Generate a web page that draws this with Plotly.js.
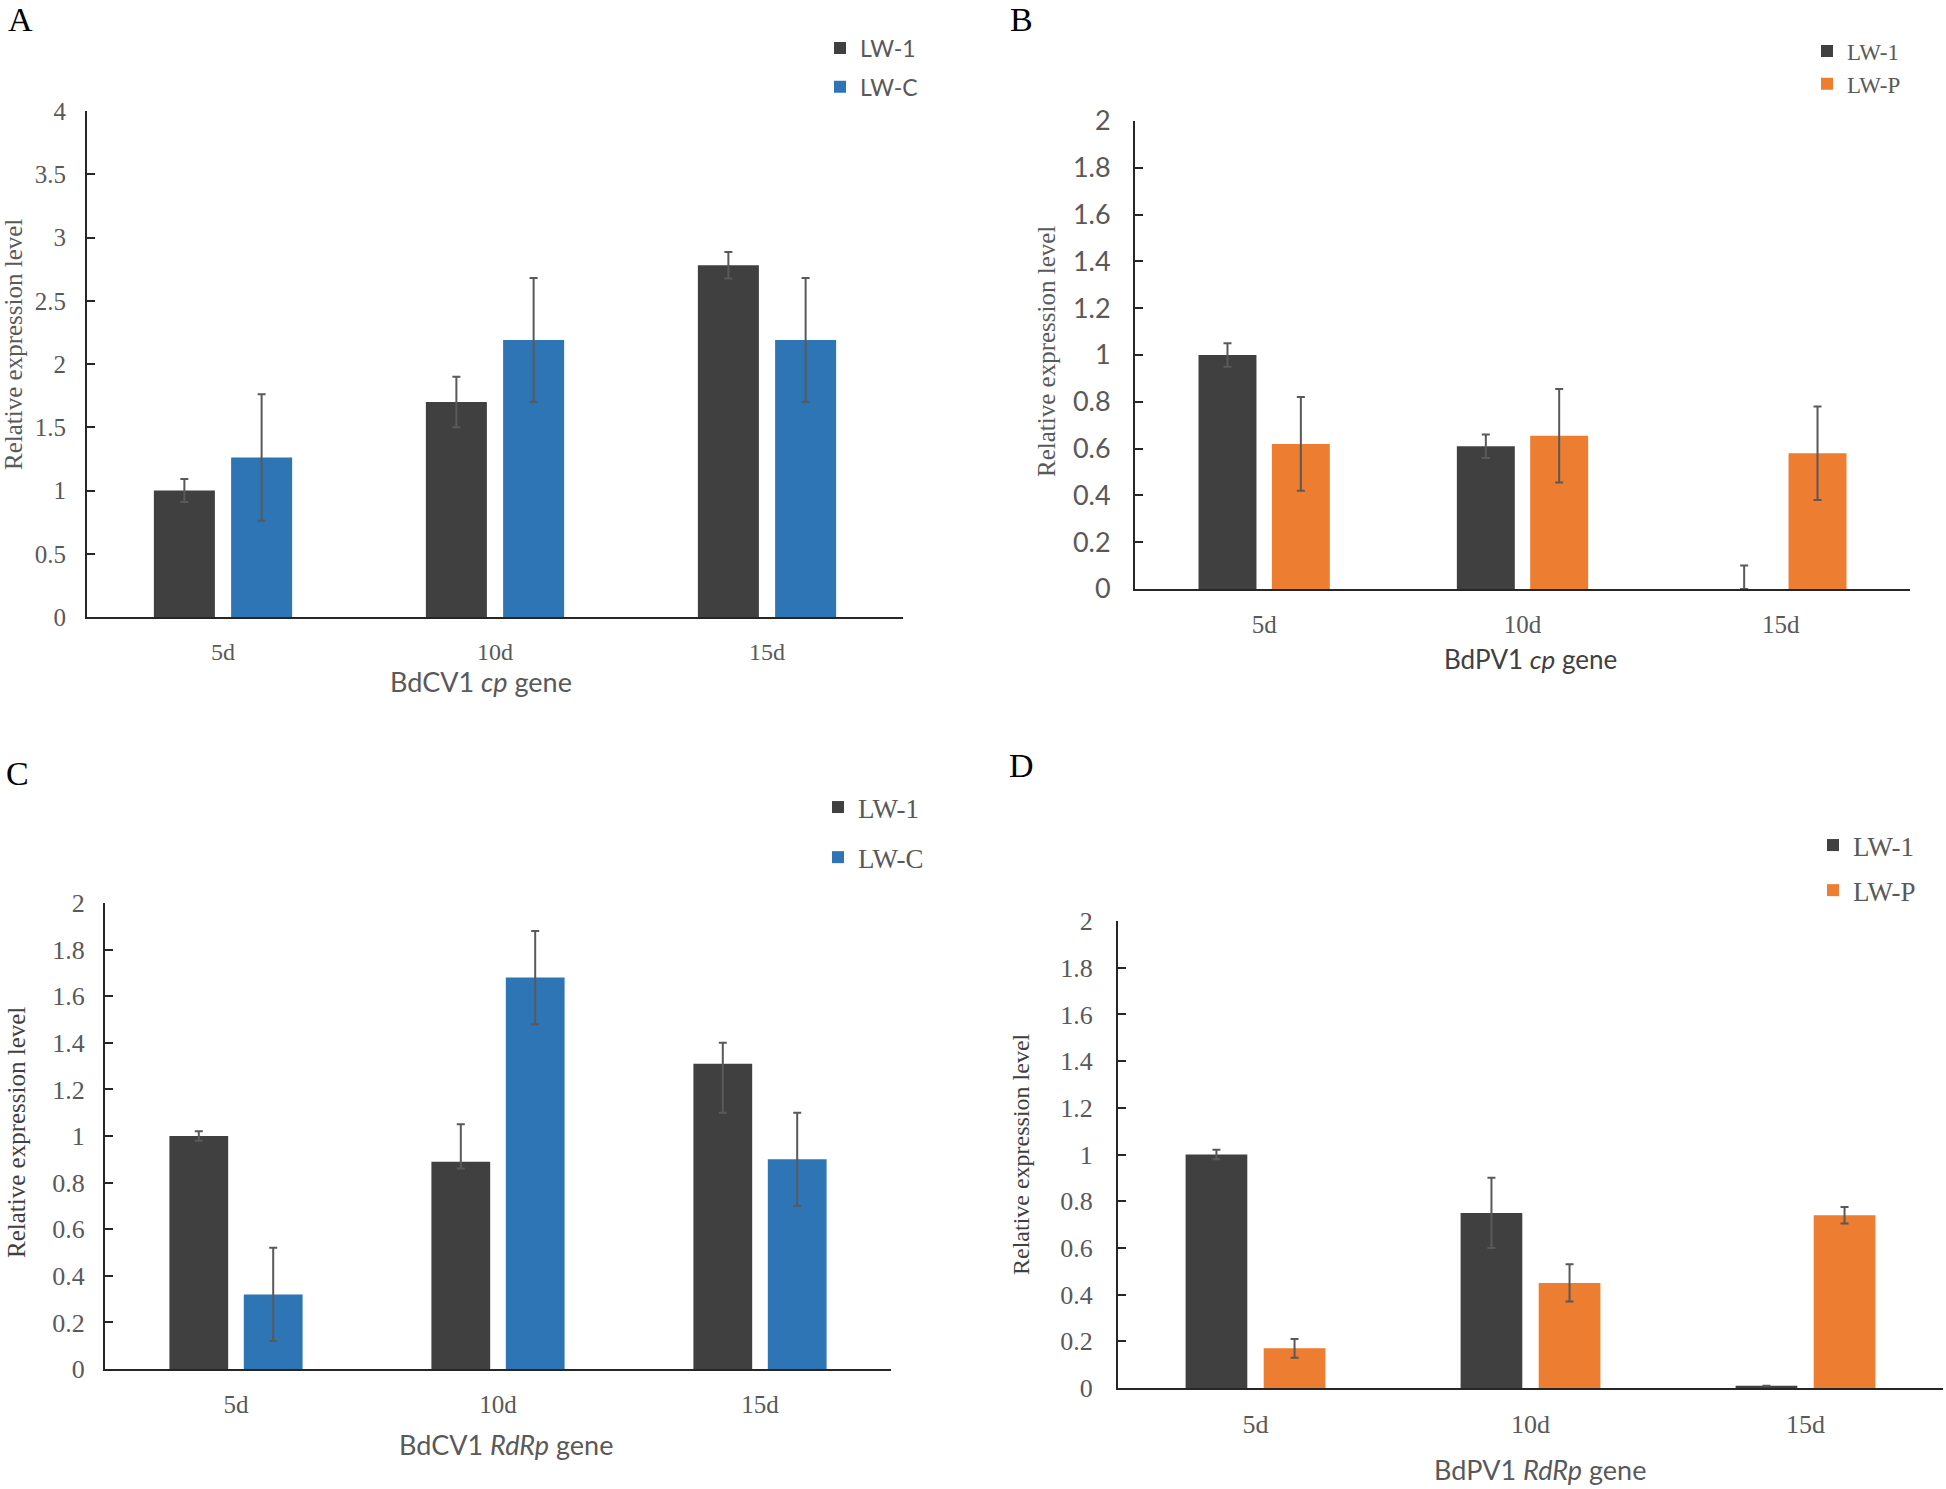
<!DOCTYPE html>
<html>
<head>
<meta charset="utf-8">
<script src="https://cdn.plot.ly/plotly-3.0.1.min.js"></script>
<style>
  html, body { margin: 0; padding: 0; background: #fff; }
  #chart { width: 1946px; height: 1489px; }
</style>
</head>
<body>
<div id="chart"></div>
<script>
const days = ["5d", "10d", "15d"];

// A: BdCV1 cp gene
const aLw1 = [1.0, 1.7, 2.78];
const aLw1Err = [0.09, 0.2, 0.105];
const aLwC = [1.26, 2.19, 2.19];
const aLwCErr = [0.5, 0.49, 0.49];

// B: BdPV1 cp gene
const bLw1 = [1.0, 0.61, 0];
const bLw1ErrPlus = [0.05, 0.05, 0.1];
const bLw1ErrMinus = [0.05, 0.05, 0];
const bLwP = [0.62, 0.655, 0.58];
const bLwPErr = [0.2, 0.2, 0.2];

// C: BdCV1 RdRp gene
const cLw1 = [1.0, 0.89, 1.31];
const cLw1ErrPlus = [0.02, 0.16, 0.09];
const cLw1ErrMinus = [0.02, 0.03, 0.21];
const cLwC = [0.32, 1.68, 0.9];
const cLwCErr = [0.2, 0.2, 0.2];

// D: BdPV1 RdRp gene
const dLw1 = [1.0, 0.75, 0.01];
const dLw1Err = [0.02, 0.15, 0];
const dLwP = [0.17, 0.45, 0.74];
const dLwPErr = [0.04, 0.08, 0.035];

const W = 1946;
const H = 1489;
const DARK = "#404040";
const BLUE = "#2e75b6";
const ORANGE = "#ed7d31";
const TEXT = "#595959";
const AXIS = "#262626";
const SERIF = "Liberation Serif, Times New Roman, serif";
const SANS = "Lato, Open Sans, sans-serif";

// pixel -> paper helpers
const px = x => x / W;
const py = y => 1 - y / H;

function barTrace(name, y, plus, minus, color, xa, ya, legendId) {
  return {
    type: "bar",
    name,
    x: days,
    y,
    xaxis: xa,
    yaxis: ya,
    legend: legendId,
    legendgroup: legendId + name,
    marker: { color },
    error_y: {
      type: "data",
      symmetric: false,
      array: plus,
      arrayminus: minus,
      color: TEXT,
      thickness: 2,
      width: 4
    },
    hoverinfo: "skip"
  };
}

function valueAxis(y0, y1, maxVal, step, font, standoff, anchor) {
  return {
    domain: [py(y0), py(y1)],
    range: [0, maxVal],
    tick0: 0,
    dtick: step,
    showgrid: false,
    zeroline: false,
    showline: true,
    linecolor: AXIS,
    linewidth: 2,
    ticks: "inside",
    ticklen: 8,
    tickwidth: 2,
    tickcolor: AXIS,
    tickfont: font,
    ticklabelstandoff: standoff,
    anchor,
    fixedrange: true
  };
}

function catAxis(x0, x1, font, anchor) {
  return {
    domain: [px(x0), px(x1)],
    type: "category",
    range: [-0.5, 2.5],
    showgrid: false,
    zeroline: false,
    showline: true,
    linecolor: AXIS,
    linewidth: 2,
    ticks: "",
    tickfont: font,
    ticklabelstandoff: 12,
    anchor,
    fixedrange: true
  };
}

function legendAt(textX, topY, size, family, gap) {
  return {
    x: px(textX - 45),
    y: py(topY),
    xanchor: "left",
    yanchor: "top",
    bgcolor: "rgba(0,0,0,0)",
    borderwidth: 0,
    font: { family, size, color: TEXT },
    tracegroupgap: gap,
    traceorder: "grouped"
  };
}

function label(text, x, y, size, family, color, angle, yanchor) {
  return {
    text,
    x: px(x),
    y: py(y),
    xref: "paper",
    yref: "paper",
    xanchor: "center",
    yanchor: yanchor || "middle",
    showarrow: false,
    borderpad: 0,
    textangle: angle || 0,
    font: { family, size, color }
  };
}

const traces = [
  barTrace("LW-1", aLw1, aLw1Err, aLw1Err, DARK, "x", "y", "legend"),
  barTrace("LW-C", aLwC, aLwCErr, aLwCErr, BLUE, "x", "y", "legend"),
  barTrace("LW-1", bLw1, bLw1ErrPlus, bLw1ErrMinus, DARK, "x2", "y2", "legend2"),
  barTrace("LW-P", bLwP, bLwPErr, bLwPErr, ORANGE, "x2", "y2", "legend2"),
  barTrace("LW-1", cLw1, cLw1ErrPlus, cLw1ErrMinus, DARK, "x3", "y3", "legend3"),
  barTrace("LW-C", cLwC, cLwCErr, cLwCErr, BLUE, "x3", "y3", "legend3"),
  barTrace("LW-1", dLw1, dLw1Err, dLw1Err, DARK, "x4", "y4", "legend4"),
  barTrace("LW-P", dLwP, dLwPErr, dLwPErr, ORANGE, "x4", "y4", "legend4")
];

const layout = {
  width: W,
  height: H,
  margin: { l: 0, r: 0, t: 0, b: 0 },
  paper_bgcolor: "#ffffff",
  plot_bgcolor: "rgba(0,0,0,0)",
  font: { family: SERIF, color: TEXT },
  barmode: "group",
  bargap: 0.432,
  bargroupgap: 0.21,
  showlegend: true,

  xaxis: catAxis(87, 903, { family: SERIF, size: 24, color: TEXT }, "y"),
  yaxis: valueAxis(617, 111, 4, 0.5, { family: SERIF, size: 25, color: TEXT }, 14, "x"),
  xaxis2: catAxis(1135, 1910, { family: SERIF, size: 25, color: TEXT }, "y2"),
  yaxis2: valueAxis(589, 121, 2, 0.2, { family: SANS, size: 27, color: TEXT }, 17, "x2"),
  xaxis3: catAxis(105, 891, { family: SERIF, size: 25, color: TEXT }, "y3"),
  yaxis3: valueAxis(1369, 903, 2, 0.2, { family: SERIF, size: 26, color: TEXT }, 13, "x3"),
  xaxis4: catAxis(1118, 1943, { family: SERIF, size: 26, color: TEXT }, "y4"),
  yaxis4: valueAxis(1388, 921, 2, 0.2, { family: SERIF, size: 26, color: TEXT }, 18, "x4"),

  legend: legendAt(865, 26.5, 23, SANS, 6),
  legend2: legendAt(1852, 29.5, 23, SERIF, 0),
  legend3: legendAt(863, 783, 27, SERIF, 12),
  legend4: legendAt(1858, 821, 27, SERIF, 7),

  annotations: [
    label("A", 20, 0, 34, SERIF, "#000", 0, "top"),
    label("B", 1022, 0, 34, SERIF, "#000", 0, "top"),
    label("C", 17, 773, 34, SERIF, "#000"),
    label("D", 1022, 765, 34, SERIF, "#000"),
    label("BdCV1 <i>cp</i> gene", 481, 682, 27, SANS, TEXT),
    label("BdPV1 <i>cp</i> gene", 1530, 659, 26, SANS, "#404040"),
    label("BdCV1 <i>RdRp</i> gene", 506, 1444, 27, SANS, TEXT),
    label("BdPV1 <i>RdRp</i> gene", 1540, 1469, 27, SANS, TEXT),
    label("Relative expression level", 13, 345, 25, SERIF, TEXT, -90),
    label("Relative expression level", 1047, 352, 25, SERIF, TEXT, -90),
    label("Relative expression level", 16, 1133, 25, SERIF, "#404040", -90),
    label("Relative expression level", 1021, 1154, 24, SERIF, "#404040", -90)
  ]
};

Plotly.newPlot("chart", traces, layout, { displayModeBar: false, responsive: false });
</script>
</body>
</html>
